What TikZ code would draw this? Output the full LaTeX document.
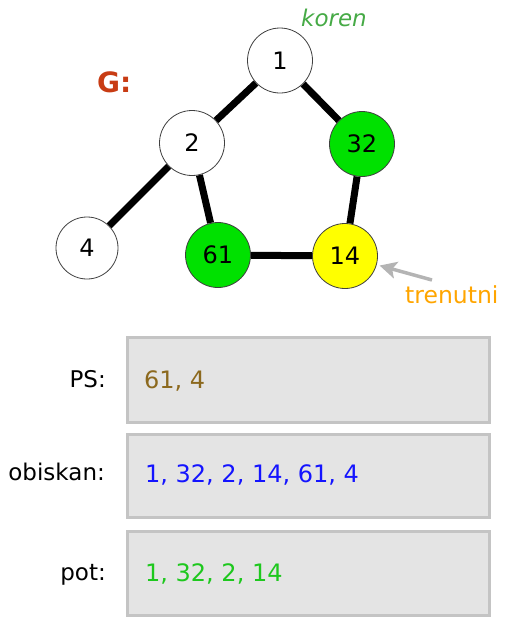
\documentclass[tikz,border=0pt]{standalone}
\usepackage{fontspec}
\setmainfont{DejaVu Sans}
\usetikzlibrary{arrows.meta,backgrounds}
\definecolor{nodegreen}{RGB}{0,225,0}
\definecolor{nodeyellow}{RGB}{255,255,0}
\definecolor{korengreen}{RGB}{70,170,70}
\definecolor{gred}{RGB}{200,60,20}
\definecolor{trenorange}{RGB}{255,165,0}
\definecolor{psbrown}{RGB}{140,105,30}
\definecolor{obblue}{RGB}{20,20,255}
\definecolor{potgreen}{RGB}{30,200,30}
\definecolor{boxfill}{RGB}{228,228,228}
\definecolor{boxline}{RGB}{196,196,196}
\definecolor{arrowgray}{RGB}{180,180,180}
\tikzset{
  vert/.style={circle, draw=black!75, line width=0.8pt, inner sep=0pt, minimum size=65pt,
     font=\fontsize{24}{28}\selectfont},
  edge/.style={line width=7pt, black},
  box/.style={draw=boxline, fill=boxfill, line width=3pt, minimum width=362pt, anchor=north west, inner sep=0pt},
  lbl/.style={anchor=base east, inner sep=0pt, font=\fontsize{23}{27}\selectfont},
  val/.style={anchor=base west, inner sep=0pt, font=\fontsize{24}{28}\selectfont},
}
\begin{document}
\begin{tikzpicture}[x=1pt,y=-1pt]
\useasboundingbox (0,0) rectangle (504,624);
\node[vert, fill=white] (n1) at (280,60.5) {1};
\node[vert, fill=white] (n2) at (192,143) {2};
\node[vert, fill=nodegreen] (n32) at (362,144) {32};
\node[vert, fill=white, minimum size=62pt] (n4) at (87,248) {4};
\node[vert, fill=nodegreen] (n61) at (218,255) {61};
\node[vert, fill=nodeyellow] (n14) at (345,256) {14};
\begin{scope}[on background layer]
\draw[edge] (n1) -- (n2);
\draw[edge] (n1) -- (n32);
\draw[edge] (n2) -- (n4);
\draw[edge] (n2) -- (n61);
\draw[edge] (n32) -- (n14);
\draw[edge] (n61) -- (n14);
\end{scope}
\node[anchor=base west, inner sep=0pt, text=korengreen, font=\fontsize{23}{27}\selectfont\itshape] (koren) at (301,26) {koren};
\node[anchor=base west, inner sep=0pt, text=gred, font=\fontsize{28}{32}\selectfont\bfseries] (g) at (97,92) {G:};
\node[anchor=base west, inner sep=0pt, text=trenorange, font=\fontsize{23.5}{27}\selectfont] (tren) at (405,303) {trenutni};
\coordinate (arrstart) at (432,280);
\draw[arrowgray, line width=3.5pt, -{Stealth[length=17pt,width=17pt,inset=4pt]}, shorten >=3pt] (arrstart) -- (n14);
\node[box, minimum height=85pt] (ps) at (125.5,335.5) {};
\node[box, minimum height=83pt] (ob) at (125.5,432.5) {};
\node[box, minimum height=84pt] (pot) at (125.5,529.5) {};
\node[lbl] (pslbl) at (106,387) {PS:};
\node[lbl] (oblbl) at (105,480) {obiskan:};
\node[lbl] (potlbl) at (106,580) {pot:};
\node[val, text=psbrown] (psval) at (144,388) {61, 4};
\node[val, text=obblue] (obval) at (145,482) {1, 32, 2, 14, 61, 4};
\node[val, text=potgreen] (potval) at (145,581) {1, 32, 2, 14};
\end{tikzpicture}
\end{document}
